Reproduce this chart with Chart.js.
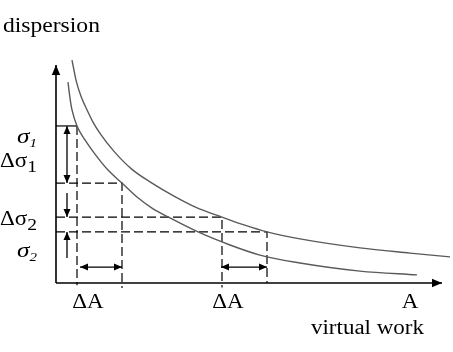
<!DOCTYPE html>
<html><head><meta charset="utf-8">
<script src="https://cdn.jsdelivr.net/npm/chart.js@4/dist/chart.umd.min.js"></script>
<style>html,body{margin:0;padding:0;background:#fff}canvas{display:block}</style>
</head><body>
<canvas id="c" width="453" height="352"></canvas>
<script>
// ---------- data (schematic values) ----------
const curve1X = [4, 5, 6.25, 8, 9.25, 11, 14.5, 19, 24, 29.5, 35, 41.5, 47, 52.75, 61, 76, 88.5, 98.5];
const curve1Y = [99.1, 90.2, 83.0, 76.0, 71.5, 66.5, 58.5, 50.5, 44.4, 38.6, 33.6, 29.3, 25.8, 22.7, 19.6, 15.6, 13.3, 11.6];
const curve2X = [3, 3.5, 4, 5.25, 7.25, 9.75, 13, 16.5, 20.25, 24, 28.5, 35.5, 43.5, 51, 61, 76, 90.25];
const curve2Y = [89.3, 82.2, 76.9, 69.8, 63.6, 57.3, 50.2, 44.4, 38.2, 33.3, 28.9, 22.7, 16.9, 12.4, 8.9, 5.3, 3.6];
const sigmaLevels = [69.8, 44.4, 29.3, 22.7];      // σ1, σ1-Δσ1, σ2+Δσ2, σ2
const workLevels = [5.25, 16.5, 41.5, 52.75];       // A1, A1+ΔA, A2, A2+ΔA
const guideBottoms = [-1, -2.2, -2, 0];
const axisEndX = 96.5, axisEndY = 96.9;
const vArrowX = 2.75;
const vArrowSpans = [[69.8, 44.4], [40, 29.3], [11.1, 22.7]];
const vArrowKinds = ['both', 'end', 'end'];
const hArrowY = 7.1;
const hArrowSpans = [[6, 16.5], [41.25, 52.75]];
const xTickLabels = ['ΔA', 'ΔA', 'A'];
const xTickAt = [8, 43, 88.5];
const xTickBaseline = -11.1;
const yTickLabels = ['σ1', 'Δσ1', 'Δσ2', 'σ2'];
const yTickAt = [62.2, 51.6, 25.8, 11.6];
const yTickRight = -4.75;
const yTitle = 'dispersion';
const yTitleAt = [-13.25, 111.6];
const xTitle = 'virtual work';
const xTitleAt = [92, -22.7];

// ---------- datasets ----------
const pts = (xs, ys) => xs.map((x, i) => ({x, y: ys[i]}));
const datasets = [];
datasets.push({label: 'axisY', data: [{x: 0, y: 0}, {x: 0, y: axisEndY}], borderColor: '#000', borderWidth: 1.6, arrow: 'end', headLen: 10, headW: 4.2});
datasets.push({label: 'axisX', data: [{x: 0, y: 0}, {x: axisEndX, y: 0}], borderColor: '#000', borderWidth: 1.6, arrow: 'end', headLen: 10, headW: 4.2});
datasets.push({label: 'upper', data: pts(curve1X, curve1Y), borderColor: '#5a5a5a', borderWidth: 1.4, tension: 0.4, cubicInterpolationMode: 'monotone'});
datasets.push({label: 'lower', data: pts(curve2X, curve2Y), borderColor: '#5a5a5a', borderWidth: 1.4, tension: 0.4, cubicInterpolationMode: 'monotone'});
// solid short segment at σ1
datasets.push({label: 'sigma1', data: [{x: 0, y: sigmaLevels[0]}, {x: workLevels[0], y: sigmaLevels[0]}], borderColor: '#000', borderWidth: 1.2});
// dashed guides
const guides = [];
guides.push({x: workLevels[0], y: sigmaLevels[0]}, {x: workLevels[0], y: guideBottoms[0]}, {x: 0, y: null});
for (let i = 1; i < 4; i++) {
  guides.push({x: 0, y: sigmaLevels[i]}, {x: workLevels[i], y: sigmaLevels[i]}, {x: workLevels[i], y: guideBottoms[i]}, {x: 0, y: null});
}
datasets.push({label: 'guides', data: guides, borderColor: '#000', borderWidth: 1.2, borderDash: [9, 4], spanGaps: false});
vArrowSpans.forEach((s, i) => datasets.push({label: 'va' + i, data: [{x: vArrowX, y: s[0]}, {x: vArrowX, y: s[1]}], borderColor: '#000', borderWidth: 1.3, arrow: vArrowKinds[i], headLen: 8, headW: 3.5}));
hArrowSpans.forEach((s, i) => datasets.push({label: 'ha' + i, data: [{x: s[0], y: hArrowY}, {x: s[1], y: hArrowY}], borderColor: '#000', borderWidth: 1.3, arrow: 'both', headLen: 8, headW: 3.5}));
datasets.forEach(d => { d.pointRadius = 0; d.fill = false; d.clip = false; if (d.tension === undefined) d.tension = 0; });

// ---------- plugins ----------
const arrowPlugin = {
  id: 'arrows',
  afterDatasetsDraw(chart) {
    const ctx = chart.ctx;
    chart.data.datasets.forEach((ds, i) => {
      if (!ds.arrow) return;
      const el = chart.getDatasetMeta(i).data;
      const head = (p, q) => {
        const dx = p.x - q.x, dy = p.y - q.y, L = Math.hypot(dx, dy);
        const ux = dx / L, uy = dy / L, nx = -uy, ny = ux;
        const bx = p.x - ux * ds.headLen, by = p.y - uy * ds.headLen;
        ctx.beginPath();
        ctx.moveTo(p.x, p.y);
        ctx.lineTo(bx + nx * ds.headW, by + ny * ds.headW);
        ctx.lineTo(bx - nx * ds.headW, by - ny * ds.headW);
        ctx.closePath();
        ctx.fill();
      };
      ctx.save();
      ctx.fillStyle = ds.borderColor;
      const n = el.length;
      head(el[n - 1], el[n - 2]);
      if (ds.arrow === 'both') head(el[0], el[1]);
      ctx.restore();
    });
  }
};

const FONT = '"Liberation Serif", "Times New Roman", serif';
const SX = 1.15;
function drawRuns(ctx, runs, x, y, align) {
  let w = 0;
  runs.forEach(r => { ctx.font = r.font; r.w = ctx.measureText(r.t).width * SX; w += r.w; });
  let cx = align === 'right' ? x - w : align === 'center' ? x - w / 2 : x;
  runs.forEach(r => {
    ctx.save();
    ctx.font = r.font;
    ctx.translate(cx, y + (r.dy || 0));
    ctx.scale(SX, 1);
    ctx.fillText(r.t, 0, 0);
    ctx.restore();
    cx += r.w;
  });
}
const textPlugin = {
  id: 'texts',
  afterDraw(chart) {
    const ctx = chart.ctx, xs = chart.scales.x, ys = chart.scales.y;
    ctx.save();
    ctx.fillStyle = '#000';
    ctx.textBaseline = 'alphabetic';
    ctx.textAlign = 'left';
    drawRuns(ctx, [{t: yTitle, font: '20.5px ' + FONT}], xs.getPixelForValue(yTitleAt[0]), ys.getPixelForValue(yTitleAt[1]), 'left');
    drawRuns(ctx, [{t: xTitle, font: '20px ' + FONT}], xs.getPixelForValue(xTitleAt[0]), ys.getPixelForValue(xTitleAt[1]), 'right');
    xTickLabels.forEach((t, i) => drawRuns(ctx, [{t, font: '20px ' + FONT}], xs.getPixelForValue(xTickAt[i]), ys.getPixelForValue(xTickBaseline), 'center'));
    yTickLabels.forEach((t, i) => {
      const main = t.slice(0, -1), sub = t.slice(-1);
      const italic = main.startsWith('σ');
      const runs = italic
        ? [{t: main, font: 'italic 22px ' + FONT}, {t: sub, font: 'italic 13px ' + FONT, dy: 4}]
        : [{t: main, font: '20px ' + FONT}, {t: sub, font: '17px ' + FONT, dy: 5}];
      drawRuns(ctx, runs, xs.getPixelForValue(yTickRight), ys.getPixelForValue(yTickAt[i]), 'right');
    });
    ctx.restore();
  }
};

new Chart(document.getElementById('c'), {
  type: 'line',
  data: {datasets},
  options: {
    responsive: false,
    animation: false,
    devicePixelRatio: 1,
    layout: {padding: {left: 56, right: 0, top: 58, bottom: 69}},
    scales: {
      x: {type: 'linear', min: 0, max: 99.25, display: false},
      y: {type: 'linear', min: 0, max: 100, display: false}
    },
    plugins: {legend: {display: false}, tooltip: {enabled: false}, title: {display: false}}
  },
  plugins: [arrowPlugin, textPlugin]
});
</script>
</body></html>
